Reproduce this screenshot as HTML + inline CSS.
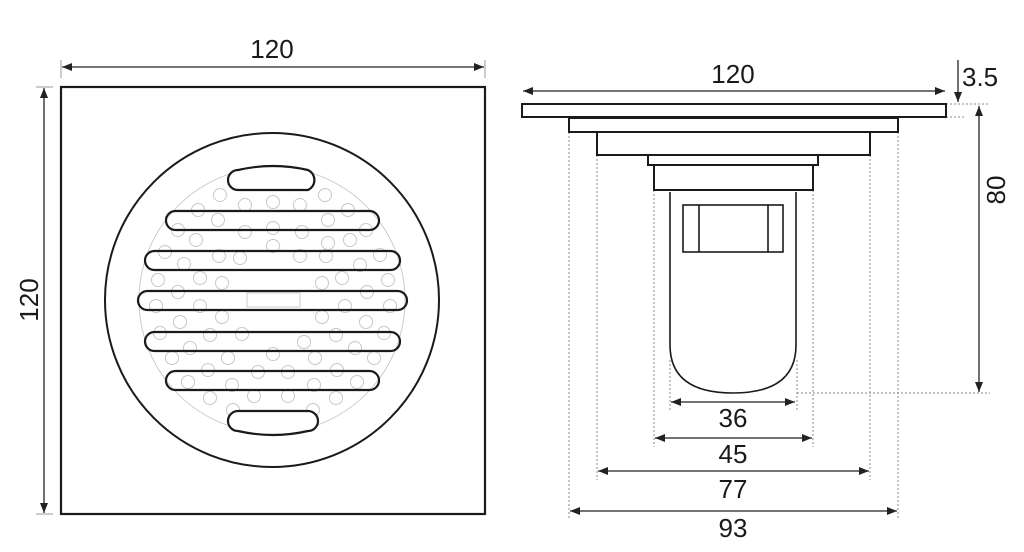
<!DOCTYPE html>
<html><head><meta charset="utf-8"><style>
html,body{margin:0;padding:0;background:#fff;}
svg{display:block;}
text{font-family:"Liberation Sans",Arial,sans-serif;font-size:26px;fill:#1a1a1a;}
</style></head><body>
<svg width="1024" height="552" viewBox="0 0 1024 552" xmlns="http://www.w3.org/2000/svg">
<defs>
<marker id="a" viewBox="0 0 10 10" refX="10" refY="5" markerWidth="10" markerHeight="10" markerUnits="userSpaceOnUse" orient="auto-start-reverse"><path d="M0,1 L10,5 L0,9 Z" fill="#222"/></marker>
<clipPath id="c"><circle cx="272" cy="300" r="133"/></clipPath>
</defs>
<!-- LEFT VIEW -->
<line x1="61" y1="60" x2="61" y2="78" stroke="#999" stroke-width="1"/>
<line x1="485" y1="60" x2="485" y2="78" stroke="#999" stroke-width="1"/>
<line x1="62" y1="67" x2="484" y2="67" stroke="#222" stroke-width="1.3" marker-start="url(#a)" marker-end="url(#a)"/>
<text x="272" y="58" text-anchor="middle">120</text>
<line x1="36" y1="87" x2="53" y2="87" stroke="#999"/>
<line x1="36" y1="514" x2="53" y2="514" stroke="#999"/>
<line x1="44" y1="88" x2="44" y2="513" stroke="#222" stroke-width="1.3" marker-start="url(#a)" marker-end="url(#a)"/>
<text transform="translate(38,300) rotate(-90)" text-anchor="middle">120</text>
<rect x="61" y="87" width="424" height="427" fill="none" stroke="#1a1a1a" stroke-width="2.2"/>
<circle cx="272" cy="300" r="167" fill="none" stroke="#1a1a1a" stroke-width="2"/>
<circle cx="272" cy="300" r="133" fill="none" stroke="#ccc" stroke-width="1"/>
<g clip-path="url(#c)" fill="none" stroke="#c8c8c8" stroke-width="1">
<g id="r1">
<circle cx="245" cy="183" r="6.5"/><circle cx="273" cy="183" r="6.5"/><circle cx="300" cy="183" r="6.5"/>
<circle cx="220" cy="195" r="6.5"/><circle cx="325" cy="195" r="6.5"/>
<circle cx="198" cy="210" r="6.5"/><circle cx="245" cy="205" r="6.5"/><circle cx="273" cy="202" r="6.5"/><circle cx="300" cy="205" r="6.5"/><circle cx="348" cy="210" r="6.5"/>
<circle cx="178" cy="230" r="6.5"/><circle cx="218" cy="220" r="6.5"/><circle cx="245" cy="232" r="6.5"/><circle cx="273" cy="228" r="6.5"/><circle cx="302" cy="232" r="6.5"/><circle cx="328" cy="220" r="6.5"/><circle cx="366" cy="230" r="6.5"/>
<circle cx="196" cy="240" r="6.5"/><circle cx="240" cy="258" r="6.5"/><circle cx="273" cy="246" r="6.5"/><circle cx="328" cy="243" r="6.5"/><circle cx="350" cy="240" r="6.5"/>
<circle cx="165" cy="252" r="6.5"/><circle cx="184" cy="264" r="6.5"/><circle cx="219" cy="256" r="6.5"/><circle cx="300" cy="256" r="6.5"/><circle cx="326" cy="256" r="6.5"/><circle cx="360" cy="265" r="6.5"/><circle cx="380" cy="255" r="6.5"/>
<circle cx="158" cy="280" r="6.5"/><circle cx="200" cy="278" r="6.5"/><circle cx="222" cy="283" r="6.5"/><circle cx="322" cy="283" r="6.5"/><circle cx="342" cy="278" r="6.5"/><circle cx="388" cy="280" r="6.5"/>
<circle cx="178" cy="292" r="6.5"/><circle cx="367" cy="292" r="6.5"/>
<circle cx="156" cy="306" r="6.5"/><circle cx="200" cy="306" r="6.5"/><circle cx="345" cy="306" r="6.5"/><circle cx="390" cy="306" r="6.5"/>
<circle cx="180" cy="322" r="6.5"/><circle cx="222" cy="317" r="6.5"/><circle cx="322" cy="317" r="6.5"/><circle cx="366" cy="322" r="6.5"/>
<circle cx="160" cy="333" r="6.5"/><circle cx="210" cy="335" r="6.5"/><circle cx="242" cy="334" r="6.5"/><circle cx="304" cy="342" r="6.5"/><circle cx="336" cy="335" r="6.5"/><circle cx="384" cy="333" r="6.5"/>
<circle cx="190" cy="348" r="6.5"/><circle cx="273" cy="354" r="6.5"/><circle cx="355" cy="348" r="6.5"/>
<circle cx="172" cy="358" r="6.5"/><circle cx="228" cy="358" r="6.5"/><circle cx="315" cy="358" r="6.5"/><circle cx="374" cy="358" r="6.5"/>
<circle cx="208" cy="370" r="6.5"/><circle cx="258" cy="372" r="6.5"/><circle cx="288" cy="372" r="6.5"/><circle cx="337" cy="370" r="6.5"/>
<circle cx="188" cy="382" r="6.5"/><circle cx="357" cy="382" r="6.5"/>
<circle cx="232" cy="385" r="6.5"/><circle cx="314" cy="385" r="6.5"/>
<circle cx="210" cy="398" r="6.5"/><circle cx="254" cy="396" r="6.5"/><circle cx="288" cy="396" r="6.5"/><circle cx="336" cy="398" r="6.5"/>
<circle cx="233" cy="410" r="6.5"/><circle cx="313" cy="410" r="6.5"/>
<circle cx="260" cy="418" r="6.5"/><circle cx="287" cy="418" r="6.5"/>
</g>
</g>
<rect x="247" y="293" width="53" height="14" fill="none" stroke="#ccc"/>
<g fill="#fff" stroke="#1a1a1a" stroke-width="2.2">
<path d="M238,170 Q273,162 308,170 A11,11 0 0 1 308,190 L238,190 A10,10 0 0 1 238,170 Z"/>
<rect x="166" y="211" width="213" height="19" rx="9.5" fill="none"/>
<rect x="145" y="251" width="255" height="19" rx="9.5" fill="none"/>
<rect x="138" y="291" width="269" height="19" rx="9.5" fill="none"/>
<rect x="145" y="332" width="255" height="19" rx="9.5" fill="none"/>
<rect x="166" y="371" width="213" height="19" rx="9.5" fill="none"/>
<path d="M238,411 L308,411 A10,10 0 0 1 308,431 Q273,439 238,431 A10,10 0 0 1 238,411 Z"/>
</g>
<!-- RIGHT VIEW -->
<g stroke="#888" stroke-width="1" stroke-dasharray="2,2" fill="none">
<line x1="569" y1="132" x2="569" y2="520"/>
<line x1="898" y1="132" x2="898" y2="520"/>
<line x1="597" y1="155" x2="597" y2="480"/>
<line x1="870" y1="155" x2="870" y2="480"/>
<line x1="654" y1="190" x2="654" y2="447"/>
<line x1="813" y1="190" x2="813" y2="447"/>
<line x1="670" y1="360" x2="670" y2="410"/>
<line x1="797" y1="360" x2="797" y2="410"/>
<line x1="797" y1="393" x2="990" y2="393"/>
<line x1="946" y1="104" x2="990" y2="104"/>
<line x1="946" y1="117" x2="965" y2="117"/>
</g>
<g fill="#fff" stroke="#1a1a1a" stroke-width="2">
<rect x="522" y="104" width="424" height="13"/>
<rect x="569" y="118" width="329" height="14"/>
<rect x="597" y="132" width="273" height="23"/>
<rect x="648" y="155" width="170" height="10"/>
<rect x="654" y="165" width="159" height="25"/>
</g>
<path d="M670,192 L670,345 Q670,393 733,393 Q796,393 796,345 L796,192" fill="none" stroke="#1a1a1a" stroke-width="1.6"/>
<rect x="683" y="205" width="100" height="47" fill="none" stroke="#1a1a1a" stroke-width="1.6"/>
<line x1="699" y1="205" x2="699" y2="252" stroke="#1a1a1a" stroke-width="1.6"/>
<line x1="768" y1="205" x2="768" y2="252" stroke="#1a1a1a" stroke-width="1.6"/>
<g stroke="#222" stroke-width="1.3">
<line x1="523" y1="91" x2="945" y2="91" marker-start="url(#a)" marker-end="url(#a)"/>
<line x1="958" y1="60" x2="958" y2="102" marker-end="url(#a)"/>
<line x1="979" y1="106" x2="979" y2="392" marker-start="url(#a)" marker-end="url(#a)"/>
<line x1="671" y1="402" x2="795" y2="402" marker-start="url(#a)" marker-end="url(#a)"/>
<line x1="655" y1="438" x2="812" y2="438" marker-start="url(#a)" marker-end="url(#a)"/>
<line x1="598" y1="471" x2="869" y2="471" marker-start="url(#a)" marker-end="url(#a)"/>
<line x1="570" y1="511" x2="897" y2="511" marker-start="url(#a)" marker-end="url(#a)"/>
</g>
<text x="733" y="83" text-anchor="middle">120</text>
<text x="962" y="86">3.5</text>
<text transform="translate(1005,190) rotate(-90)" text-anchor="middle">80</text>
<text x="733" y="427" text-anchor="middle">36</text>
<text x="733" y="463" text-anchor="middle">45</text>
<text x="733" y="498" text-anchor="middle">77</text>
<text x="733" y="537" text-anchor="middle">93</text>
</svg>
</body></html>
